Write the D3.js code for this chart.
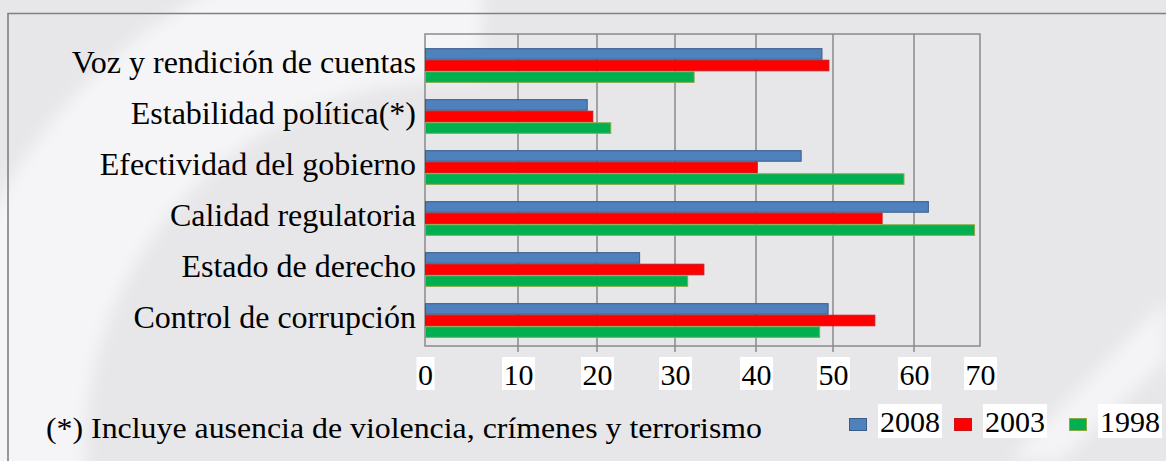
<!DOCTYPE html>
<html>
<head>
<meta charset="utf-8">
<script src="https://cdn.jsdelivr.net/npm/d3@7"></script>
<style>
  html, body { margin: 0; padding: 0; background: #e7e7ea; }
  svg { display: block; }
</style>
</head>
<body>
<svg id="chart" width="1166" height="461"></svg>
<script>
// Governance indicators, percentile rank, three survey years
const categories = [
  "Voz y rendición de cuentas",
  "Estabilidad política(*)",
  "Efectividad del gobierno",
  "Calidad regulatoria",
  "Estado de derecho",
  "Control de corrupción"
];
const seriesNames = ["2008", "2003", "1998"];
const values2008 = [48.5, 18.7, 45.8, 62.1, 25.4, 49.3];
const values2003 = [49.4, 19.4, 40.1, 56.0, 33.5, 55.1];
const values1998 = [32.3, 21.7, 58.7, 69.1, 31.5, 48.2];
const tickValues = [0, 10, 20, 30, 40, 50, 60, 70];
const tickLabels = ["0", "10", "20", "30", "40", "50", "60", "70"];
const footnote = "(*) Incluye ausencia de violencia, crímenes y terrorismo";

const seriesValues = [values2008, values2003, values1998];
const fills = ["#4f81bd", "#ff0000", "#00b050"];
const strokes = ["#385d8a", "#c8161d", "#8aa845"];

const W = 1166, H = 461;
const plot = { left: 425, right: 980, top: 34, bottom: 346 };
// gridline positions of the printed axis
const gridX = [425, 518, 597, 675, 756, 833, 914, 980];
const serif = "'Liberation Serif', 'Times New Roman', serif";

const svg = d3.select("#chart");

// ---- background with soft light patches ----
const defs = svg.append("defs");
defs.append("filter").attr("id", "soft")
  .attr("x", "-20%").attr("y", "-20%").attr("width", "140%").attr("height", "140%")
  .append("feGaussianBlur").attr("stdDeviation", 8);

svg.append("rect").attr("width", W).attr("height", H).attr("fill", "#e7e7ea");

const ring = d3.arc()
  .innerRadius(370).outerRadius(520)
  .startAngle(-Math.PI * 0.62).endAngle(Math.PI * 0.02);
svg.append("path")
  .attr("transform", "translate(455,450)")
  .attr("d", ring())
  .attr("fill", "#f5f5f7")
  .attr("filter", "url(#soft)");

// light diagonal streak at the right
svg.append("path")
  .attr("d", "M1010,460 L1166,300 L1166,360 L1060,461 Z")
  .attr("fill", "#f4f4f6")
  .attr("filter", "url(#soft)");

// ---- outer frame (top and left edges) ----
svg.append("path")
  .attr("d", `M8,${H} L8,13.5 L${W},13.5`)
  .attr("fill", "none")
  .attr("stroke", "#808080")
  .attr("stroke-width", 1.6);

// ---- scales ----
const x = d3.scaleLinear().domain(tickValues).range(gridX);
const y = d3.scaleBand().domain(categories)
  .range([40, plot.bottom])
  .paddingInner(0.32).paddingOuter(0.16);
const ySub = d3.scaleBand().domain(seriesNames).range([0, y.bandwidth()]);

// ---- gridlines and plot frame ----
const gridColor = "#8a8a8a";
svg.append("g").selectAll("line")
  .data(tickValues.slice(1, -1))
  .join("line")
  .attr("x1", d => x(d)).attr("x2", d => x(d))
  .attr("y1", plot.top).attr("y2", plot.bottom + 6)
  .attr("stroke", gridColor).attr("stroke-width", 1.5);

svg.append("rect")
  .attr("x", x(0)).attr("y", plot.top)
  .attr("width", x(70) - x(0)).attr("height", plot.bottom - plot.top)
  .attr("fill", "none")
  .attr("stroke", gridColor).attr("stroke-width", 1.5);

// ---- bars ----
const rows = categories.map((c, i) => ({
  category: c,
  values: seriesNames.map((s, k) => ({ series: s, k, value: seriesValues[k][i] }))
}));

const groups = svg.append("g").selectAll("g")
  .data(rows).join("g")
  .attr("transform", d => `translate(0,${y(d.category)})`);

groups.selectAll("rect")
  .data(d => d.values)
  .join("rect")
  .attr("x", x(0) + 0.5)
  .attr("y", d => ySub(d.series) + 0.5)
  .attr("width", d => x(d.value) - x(0))
  .attr("height", ySub.bandwidth() - 1)
  .attr("fill", d => fills[d.k])
  .attr("stroke", d => strokes[d.k])
  .attr("stroke-width", 1);

// ---- category axis ----
const yAxis = d3.axisLeft(y).tickSize(0).tickPadding(9);
const yg = svg.append("g").attr("transform", `translate(${plot.left},0)`).call(yAxis);
yg.attr("font-family", serif);
yg.select(".domain").remove();
yg.selectAll("text")
  .attr("font-family", serif)
  .attr("font-size", 32)
  .attr("fill", "#000")
  .attr("dy", "0.22em");

// ---- value axis labels on white boxes ----
const xAxis = d3.axisBottom(x).tickValues(tickValues)
  .tickFormat((d, i) => tickLabels[i]).tickSize(0).tickPadding(0);
const xg = svg.append("g").call(xAxis);
xg.attr("font-family", serif);
xg.select(".domain").remove();
xg.selectAll(".tick text")
  .attr("font-family", serif)
  .attr("font-size", 30)
  .attr("fill", "#000")
  .attr("y", 385)
  .attr("dy", 0);
xg.selectAll(".tick").each(function () {
  const t = d3.select(this).select("text");
  const bb = t.node().getBBox();
  d3.select(this).insert("rect", "text")
    .attr("x", bb.x - 1.5).attr("y", 357)
    .attr("width", bb.width + 3).attr("height", 33)
    .attr("fill", "#fff");
});

// ---- footnote ----
svg.append("text")
  .attr("x", 46).attr("y", 437.5)
  .attr("font-family", serif)
  .attr("font-size", 29)
  .attr("textLength", 716)
  .attr("lengthAdjust", "spacingAndGlyphs")
  .attr("fill", "#000")
  .text(footnote);

// ---- legend ----
const legendX = [849, 954, 1069];
const legend = svg.append("g").selectAll("g")
  .data(seriesNames).join("g")
  .attr("transform", (d, i) => `translate(${legendX[i]},0)`);
legend.append("rect")
  .attr("x", 0.5).attr("y", 418.5).attr("width", 17).attr("height", 12)
  .attr("fill", (d, i) => fills[i])
  .attr("stroke", (d, i) => strokes[i]).attr("stroke-width", 1);
legend.each(function (d) {
  const g = d3.select(this);
  const t = g.append("text")
    .attr("x", 31).attr("y", 431.5)
    .attr("font-family", serif)
    .attr("font-size", 30)
    .attr("fill", "#000")
    .text(d);
  const bb = t.node().getBBox();
  g.insert("rect", "text")
    .attr("x", bb.x - 2).attr("y", 404)
    .attr("width", bb.width + 4).attr("height", 34)
    .attr("fill", "#fff");
});
</script>
</body>
</html>
